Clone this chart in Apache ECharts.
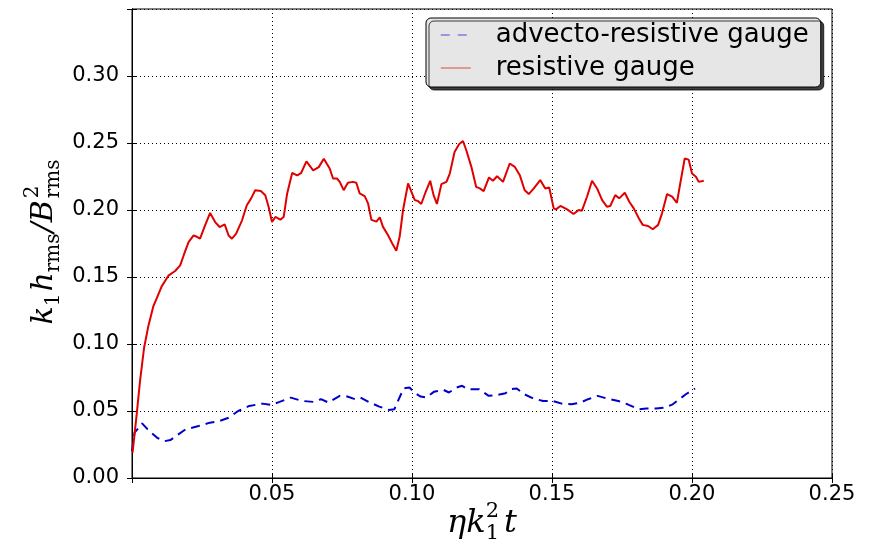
<!DOCTYPE html>
<html>
<head>
<meta charset="utf-8">
<script src="https://cdn.jsdelivr.net/npm/echarts@6/dist/echarts.min.js"></script>
<style>
  html, body { margin: 0; padding: 0; background: #ffffff; }
  #chart { width: 874px; height: 547px; }
</style>
</head>
<body>
<div id="chart"></div>
<script>
// Axis ranges and tick labels
const xRange = [0, 0.25];
const yRange = [0, 0.35];
const xTickLabels = ['0.05', '0.10', '0.15', '0.20', '0.25'];
const yTickLabels = ['0.00', '0.05', '0.10', '0.15', '0.20', '0.25', '0.30'];

const seriesNames = ['advecto-resistive gauge', 'resistive gauge'];

// Advecto-resistive gauge: time and normalised helicity
const advTime = [0.0000, 0.0009, 0.0019, 0.0036, 0.0056, 0.0090, 0.0117, 0.0137, 0.0157, 0.0191,
  0.0238, 0.0278, 0.0312, 0.0345, 0.0379, 0.0419, 0.0466, 0.0497, 0.0527, 0.0567,
  0.0608, 0.0648, 0.0675, 0.0702, 0.0742, 0.0769, 0.0796, 0.0816, 0.0850, 0.0883,
  0.0917, 0.0937, 0.0950, 0.0970, 0.0991, 0.1011, 0.1031, 0.1051, 0.1078, 0.1112,
  0.1132, 0.1159, 0.1179, 0.1199, 0.1239, 0.1274, 0.1300, 0.1334, 0.1354, 0.1374,
  0.1401, 0.1434, 0.1468, 0.1503, 0.1535, 0.1569, 0.1602, 0.1629, 0.1663, 0.1696,
  0.1737, 0.1770, 0.1810, 0.1837, 0.1871, 0.1905, 0.1931, 0.1958, 0.1978, 0.2011];
const advValue = [0.0200, 0.0338, 0.0363, 0.0408, 0.0363, 0.0300, 0.0275, 0.0283, 0.0313, 0.0363,
  0.0388, 0.0413, 0.0425, 0.0450, 0.0500, 0.0538, 0.0555, 0.0545, 0.0568, 0.0600,
  0.0575, 0.0568, 0.0588, 0.0563, 0.0613, 0.0608, 0.0588, 0.0600, 0.0563, 0.0533,
  0.0508, 0.0513, 0.0575, 0.0668, 0.0675, 0.0633, 0.0608, 0.0600, 0.0643, 0.0658,
  0.0638, 0.0675, 0.0688, 0.0663, 0.0663, 0.0613, 0.0618, 0.0633, 0.0663, 0.0668,
  0.0625, 0.0593, 0.0575, 0.0575, 0.0555, 0.0550, 0.0563, 0.0588, 0.0613, 0.0593,
  0.0575, 0.0550, 0.0513, 0.0518, 0.0518, 0.0525, 0.0550, 0.0593, 0.0625, 0.0668];

// Resistive gauge: time and normalised helicity
const resTime = [0.0002, 0.0017, 0.0029, 0.0043, 0.0058, 0.0076, 0.0086, 0.0106, 0.0130, 0.0154,
  0.0172, 0.0186, 0.0202, 0.0220, 0.0232, 0.0243, 0.0261, 0.0279, 0.0297, 0.0313,
  0.0331, 0.0345, 0.0357, 0.0372, 0.0393, 0.0410, 0.0425, 0.0440, 0.0460, 0.0476,
  0.0488, 0.0500, 0.0512, 0.0530, 0.0542, 0.0554, 0.0572, 0.0590, 0.0604, 0.0623,
  0.0647, 0.0667, 0.0685, 0.0706, 0.0718, 0.0732, 0.0742, 0.0756, 0.0771, 0.0789,
  0.0801, 0.0813, 0.0831, 0.0843, 0.0855, 0.0873, 0.0885, 0.0896, 0.0914, 0.0932,
  0.0944, 0.0956, 0.0968, 0.0986, 0.0998, 0.1010, 0.1021, 0.1033, 0.1049, 0.1065,
  0.1077, 0.1089, 0.1105, 0.1123, 0.1135, 0.1152, 0.1168, 0.1182, 0.1194, 0.1212,
  0.1229, 0.1242, 0.1256, 0.1275, 0.1289, 0.1304, 0.1325, 0.1349, 0.1367, 0.1385,
  0.1402, 0.1417, 0.1435, 0.1458, 0.1476, 0.1490, 0.1506, 0.1514, 0.1530, 0.1554,
  0.1577, 0.1595, 0.1607, 0.1625, 0.1643, 0.1661, 0.1679, 0.1696, 0.1708, 0.1726,
  0.1740, 0.1760, 0.1776, 0.1792, 0.1810, 0.1824, 0.1843, 0.1860, 0.1879, 0.1893,
  0.1911, 0.1929, 0.1946, 0.1958, 0.1974, 0.1988, 0.2000, 0.2014, 0.2024, 0.2042];
const resValue = [0.0190, 0.0480, 0.0730, 0.0970, 0.1130, 0.1280, 0.1330, 0.1430, 0.1510, 0.1545,
  0.1587, 0.1670, 0.1760, 0.1810, 0.1800, 0.1786, 0.1886, 0.1978, 0.1910, 0.1873,
  0.1893, 0.1810, 0.1786, 0.1823, 0.1923, 0.2035, 0.2085, 0.2147, 0.2142, 0.2110,
  0.2022, 0.1910, 0.1948, 0.1928, 0.1950, 0.2122, 0.2276, 0.2259, 0.2276, 0.2363,
  0.2296, 0.2320, 0.2383, 0.2310, 0.2235, 0.2235, 0.2210, 0.2148, 0.2203, 0.2210,
  0.2203, 0.2124, 0.2104, 0.2050, 0.1926, 0.1913, 0.1946, 0.1876, 0.1814, 0.1740,
  0.1696, 0.1802, 0.2000, 0.2198, 0.2136, 0.2074, 0.2067, 0.2045, 0.2136, 0.2218,
  0.2111, 0.2045, 0.2193, 0.2210, 0.2272, 0.2433, 0.2490, 0.2515, 0.2446, 0.2322,
  0.2173, 0.2161, 0.2141, 0.2243, 0.2218, 0.2252, 0.2210, 0.2347, 0.2322, 0.2260,
  0.2149, 0.2119, 0.2161, 0.2223, 0.2161, 0.2168, 0.2012, 0.2005, 0.2030, 0.2005,
  0.1970, 0.2000, 0.1995, 0.2099, 0.2218, 0.2161, 0.2074, 0.2025, 0.2030, 0.2111,
  0.2087, 0.2129, 0.2062, 0.2012, 0.1938, 0.1889, 0.1881, 0.1856, 0.1889, 0.1975,
  0.2119, 0.2099, 0.2054, 0.2198, 0.2384, 0.2376, 0.2272, 0.2248, 0.2210, 0.2218];

const zip = (a, b) => a.map((v, i) => [v, b[i]]);

// Measure text with a canvas so the math-style axis titles can be laid out piece by piece
const measureCtx = document.createElement('canvas').getContext('2d');
function textWidth(t, font) { measureCtx.font = font; return measureCtx.measureText(t).width; }

const MATH_FAMILY = '"DejaVu Serif"';
function mathGroup(pieces, pos, rotation) {
  // pieces: {t, italic, size, dy, keep}  (keep = do not advance, for stacked sup/sub)
  let x = 0;
  const items = [];
  pieces.forEach(p => {
    const font = (p.italic ? 'italic ' : '') + p.size + 'px ' + MATH_FAMILY;
    const w = textWidth(p.t, font);
    items.push({ p: p, x: x, font: font });
    if (!p.keep) x += w + (p.gap || 0);
  });
  const total = x;
  const children = items.map(it => ({
    type: 'text',
    x: it.x - total / 2,
    y: (it.p.dy || 0) - it.p.size * 0.36,
    style: {
      text: it.p.t,
      font: it.font,
      fill: '#000',
      align: 'left',
      verticalAlign: 'middle'
    }
  }));
  return { type: 'group', x: pos[0], y: pos[1], rotation: rotation, children: children };
}

const yTitle = mathGroup([
  { t: 'k', italic: true, size: 30 },
  { t: '1', size: 20, dy: 6, gap: 2 },
  { t: 'h', italic: true, size: 30 },
  { t: 'rms', size: 20, dy: 6, gap: 1 },
  { t: '/', italic: true, size: 30 },
  { t: 'B', italic: true, size: 30, gap: 2 },
  { t: '2', size: 20, dy: -15, keep: true },
  { t: 'rms', size: 20, dy: 6 }
], [55, 242], Math.PI / 2);

const xTitle = mathGroup([
  { t: 'η', italic: true, size: 32 },
  { t: 'k', italic: true, size: 32 },
  { t: '2', size: 21, dy: -16, keep: true },
  { t: '1', size: 21, dy: 6, gap: 5 },
  { t: 't', italic: true, size: 32 }
], [482, 535], 0);

const tickFont = { fontFamily: '"DejaVu Sans"', fontSize: 21, color: '#000' };
const gridLine = { show: true, lineStyle: { color: '#000', width: 1, type: [1, 3] } };

const chart = echarts.init(document.getElementById('chart'), null, { renderer: 'canvas' });
chart.setOption({
  backgroundColor: '#ffffff',
  animation: false,
  grid: { left: 132, right: 42, top: 9, bottom: 69, show: true, borderColor: '#000', borderWidth: 1 },
  legend: {
    left: 426, top: 18,
    orient: 'vertical',
    padding: [2, 12, 4, 14],
    itemGap: 3,
    itemWidth: 30, itemHeight: 12,
    backgroundColor: '#e6e6e6',
    borderColor: '#000', borderWidth: 1, borderRadius: 5,
    shadowColor: 'rgba(0,0,0,0.75)', shadowBlur: 0, shadowOffsetX: 3, shadowOffsetY: 3,
    textStyle: { fontFamily: '"DejaVu Sans"', fontSize: 26, color: '#000', padding: [0, 0, 0, 20], lineHeight: 30 },
    data: [
      { name: seriesNames[0], itemStyle: { opacity: 0 }, lineStyle: { color: '#7d7de0', width: 1.5, type: [9, 8] } },
      { name: seriesNames[1], itemStyle: { opacity: 0 }, lineStyle: { color: '#e07d7d', width: 1.5 } }
    ]
  },
  xAxis: [{
    type: 'value', min: xRange[0], max: xRange[1], interval: 0.05,
    axisLine: { show: true, lineStyle: { color: '#000' } },
    axisTick: { show: true, inside: true, length: 5, lineStyle: { color: '#000' } },
    axisLabel: { ...tickFont, margin: 6, formatter: v => xTickLabels.includes(v.toFixed(2)) ? v.toFixed(2) : '' },
    splitLine: gridLine
  }, {
    type: 'value', position: 'top', min: xRange[0], max: xRange[1], interval: 0.05,
    axisLine: { show: true, lineStyle: { color: '#000' } },
    axisTick: { show: true, inside: true, length: 5, lineStyle: { color: '#000' } },
    axisLabel: { show: false }, splitLine: { show: false }
  }],
  yAxis: [{
    type: 'value', min: yRange[0], max: yRange[1], interval: 0.05,
    axisLine: { show: true, lineStyle: { color: '#000' } },
    axisTick: { show: true, inside: true, length: 5, lineStyle: { color: '#000' } },
    axisLabel: { ...tickFont, margin: 13, formatter: v => yTickLabels.includes(v.toFixed(2)) ? v.toFixed(2) : '' },
    splitLine: gridLine
  }, {
    type: 'value', position: 'right', min: yRange[0], max: yRange[1], interval: 0.05,
    axisLine: { show: true, lineStyle: { color: '#000' } },
    axisTick: { show: true, inside: true, length: 5, lineStyle: { color: '#000' } },
    axisLabel: { show: false }, splitLine: { show: false }
  }],
  series: [{
    name: seriesNames[0], type: 'line', xAxisIndex: 0, yAxisIndex: 0,
    data: zip(advTime, advValue),
    showSymbol: false, symbol: 'none', smooth: false,
    lineStyle: { color: '#0000cc', width: 2, type: [9, 6] },
    itemStyle: { color: '#0000cc' },
    z: 3
  }, {
    name: seriesNames[1], type: 'line', xAxisIndex: 0, yAxisIndex: 0,
    data: zip(resTime, resValue),
    showSymbol: false, symbol: 'none', smooth: false,
    lineStyle: { color: '#e00000', width: 2 },
    itemStyle: { color: '#e00000' },
    z: 4
  }],
  graphic: [yTitle, xTitle]
});
</script>
</body>
</html>
